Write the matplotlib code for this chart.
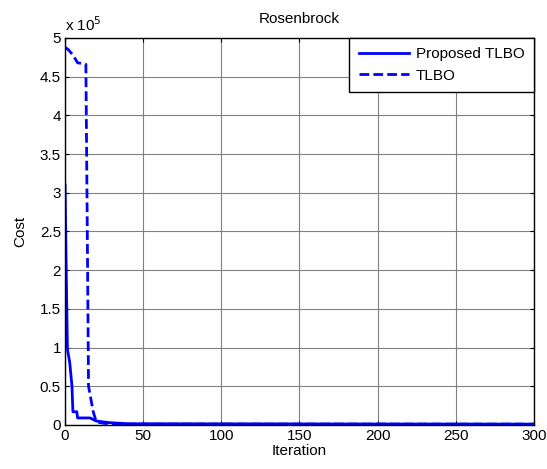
import matplotlib.pyplot as plt
from matplotlib.ticker import FuncFormatter

plt.rcParams['font.family'] = ['Liberation Sans', 'DejaVu Sans']

# iteration / cost
prop_iter = [0, 1, 1.5, 3, 4.4, 5, 7.5, 8, 16, 20, 28, 40, 300]
prop_cost = [3.1e5, 1.6e5, 0.98e5, 0.8e5, 0.5e5, 0.17e5, 0.17e5, 0.09e5,
             0.09e5, 0.05e5, 0.03e5, 0.015e5, 0.01e5]

tlbo_iter = [0, 2, 5, 8, 13.3, 14, 15, 18, 20, 25, 35, 300]
tlbo_cost = [4.88e5, 4.85e5, 4.78e5, 4.68e5, 4.66e5, 3.0e5, 0.5e5, 0.17e5,
             0.04e5, 0.02e5, 0.01e5, 0.01e5]

fs = 11

fig = plt.figure(figsize=(5.47, 4.69), dpi=100)
ax = fig.add_axes([0.119, 0.094, 0.857, 0.825])

ax.plot(prop_iter, prop_cost, color='blue', lw=2, label='Proposed TLBO')
ax.plot(tlbo_iter, tlbo_cost, color='blue', lw=2, ls='--', dashes=(3.5, 1.5), label='TLBO')

ax.set_xlim(0, 300)
ax.set_ylim(0, 5e5)
ax.set_xticks(range(0, 301, 50))
ax.set_yticks([i * 0.5e5 for i in range(11)])
ax.yaxis.set_major_formatter(FuncFormatter(lambda v, p: f'{v / 1e5:g}'))
ax.tick_params(direction='in', top=True, right=True, labelsize=fs, length=3, pad=3)
ax.grid(True, color='#808080', lw=0.8)
for s in ax.spines.values():
    s.set_linewidth(1)

ax.text(0.0, 1.01, r'x 10$^5$', transform=ax.transAxes, fontsize=fs, va='bottom')
ax.set_title('Rosenbrock', fontsize=fs, pad=11)
ax.set_xlabel('Iteration', fontsize=fs, labelpad=1)
ax.set_ylabel('Cost', fontsize=fs, labelpad=9)

leg = ax.legend(loc='upper right', fontsize=fs, fancybox=False, framealpha=1,
                edgecolor='black', borderaxespad=0, handlelength=3.3,
                handletextpad=0.45, borderpad=0.6, labelspacing=0.5)
leg.get_frame().set_linewidth(1)

fig.savefig('out.png', dpi=100)
